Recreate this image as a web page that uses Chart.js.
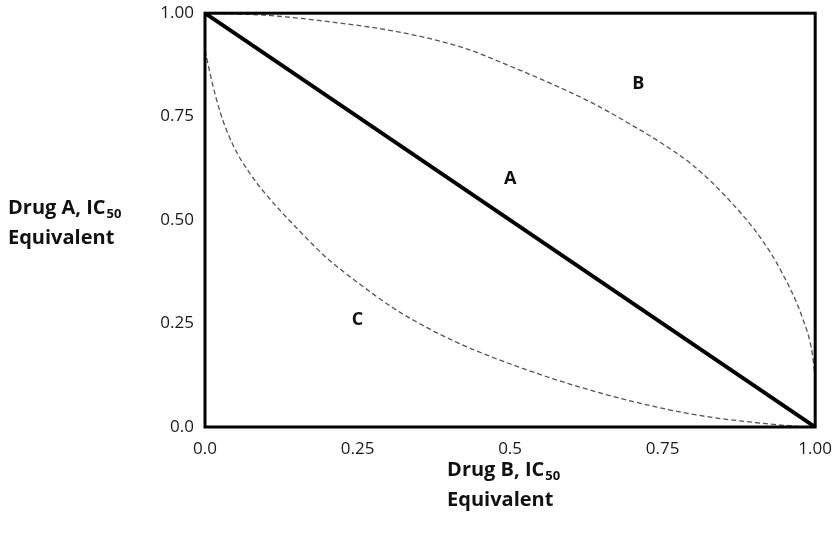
<!DOCTYPE html>
<html>
<head>
<meta charset="utf-8">
<script src="https://cdn.jsdelivr.net/npm/chart.js@4/dist/chart.umd.min.js"></script>
<style>
  body { margin: 0; background: #fff; }
</style>
</head>
<body>
<canvas id="isoChart" width="836" height="536"></canvas>
<script>
// --- data ---
const xTicks = [0, 0.25, 0.5, 0.75, 1];
const xTickLabels = ['0.0', '0.25', '0.5', '0.75', '1.00'];
const yTicks = [0, 0.25, 0.5, 0.75, 1];
const yTickLabels = ['0.0', '0.25', '0.50', '0.75', '1.00'];

// additive line (A)
const lineAx = [0, 1];
const lineAy = [1, 0];

// antagonism curve (B)
const curveBx = [0.0, 0.1, 0.2, 0.316, 0.42, 0.51, 0.582, 0.636, 0.692, 0.746, 0.8, 0.856, 0.91, 0.943, 0.98, 0.995, 1.0];
const curveBy = [1.0, 0.995, 0.98, 0.955, 0.918, 0.866, 0.82, 0.782, 0.736, 0.688, 0.632, 0.553, 0.458, 0.38, 0.26, 0.18, 0.12];

// synergy curve (C)
const curveCx = [0.0, 0.013, 0.025, 0.046, 0.074, 0.10, 0.156, 0.2, 0.254, 0.308, 0.364, 0.418, 0.472, 0.516, 0.593, 0.70, 0.81, 0.92, 0.975];
const curveCy = [0.91, 0.825, 0.76, 0.681, 0.612, 0.562, 0.472, 0.408, 0.345, 0.288, 0.24, 0.201, 0.168, 0.144, 0.106, 0.062, 0.028, 0.008, 0.001];

// region labels
const regionNames = ['A', 'B', 'C'];
const regionX = [0.5, 0.71, 0.25];
const regionY = [0.6, 0.83, 0.26];

const yTitle = ['Drug A, IC', '50', 'Equivalent'];
const xTitle = ['Drug B, IC', '50', 'Equivalent'];

const toPoints = (xs, ys) => xs.map((x, i) => ({ x: x, y: ys[i] }));

const tickFont = { family: "'Open Sans', sans-serif", size: 17 };
const letterFont = "bold 18px 'Open Sans', sans-serif";
const titleFont = "bold 20px 'Open Sans', sans-serif";
const subFont = "bold 13px 'Open Sans', sans-serif";

// frame, region letters and axis titles
const decorations = {
    id: 'decorations',
    afterDatasetsDraw(chart) {
        const { ctx, chartArea, scales } = chart;
        ctx.save();

        ctx.strokeStyle = '#000';
        ctx.lineWidth = 3;
        ctx.strokeRect(chartArea.left, chartArea.top, chartArea.width, chartArea.height);

        ctx.fillStyle = '#111';
        ctx.font = letterFont;
        ctx.textAlign = 'center';
        ctx.textBaseline = 'middle';
        regionNames.forEach((name, i) => {
            ctx.fillText(name, scales.x.getPixelForValue(regionX[i]), scales.y.getPixelForValue(regionY[i]));
        });

        // titles with subscript
        const drawTitle = (parts, left, base) => {
            ctx.textAlign = 'left';
            ctx.textBaseline = 'alphabetic';
            ctx.font = titleFont;
            ctx.fillText(parts[0], left, base);
            const w = ctx.measureText(parts[0]).width;
            ctx.font = subFont;
            ctx.fillText(parts[1], left + w + 1, base + 4);
            ctx.font = titleFont;
            ctx.fillText(parts[2], left, base + 30);
        };
        const midY = (chartArea.top + chartArea.bottom) / 2;
        drawTitle(yTitle, 8, midY - 6);
        const midX = (chartArea.left + chartArea.right) / 2;
        drawTitle(xTitle, midX - 63, chartArea.bottom + 49);

        ctx.restore();
    }
};

new Chart(document.getElementById('isoChart'), {
    type: 'scatter',
    data: {
        datasets: [
            {
                label: 'A',
                data: toPoints(lineAx, lineAy),
                showLine: true,
                borderColor: '#000',
                borderWidth: 4,
                pointRadius: 0
            },
            {
                label: 'B',
                data: toPoints(curveBx, curveBy),
                showLine: true,
                borderColor: '#555',
                borderWidth: 1.3,
                borderDash: [5, 3],
                cubicInterpolationMode: 'monotone',
                pointRadius: 0
            },
            {
                label: 'C',
                data: toPoints(curveCx, curveCy),
                showLine: true,
                borderColor: '#555',
                borderWidth: 1.3,
                borderDash: [5, 3],
                cubicInterpolationMode: 'monotone',
                pointRadius: 0
            }
        ]
    },
    options: {
        responsive: false,
        animation: false,
        layout: { padding: { left: 155, right: 20, top: 8, bottom: 79 } },
        plugins: {
            legend: { display: false },
            tooltip: { enabled: false }
        },
        scales: {
            x: {
                min: 0,
                max: 1,
                afterBuildTicks: (scale) => { scale.ticks = xTicks.map(v => ({ value: v })); },
                afterFit: (scale) => { scale.height = 30; },
                grid: { display: false },
                border: { display: false },
                ticks: {
                    color: '#1a1a1a',
                    font: tickFont,
                    padding: 4,
                    maxRotation: 0,
                    callback: (value) => xTickLabels[xTicks.indexOf(value)]
                }
            },
            y: {
                min: 0,
                max: 1,
                afterBuildTicks: (scale) => { scale.ticks = yTicks.map(v => ({ value: v })); },
                afterFit: (scale) => { scale.width = 50; },
                grid: { display: false },
                border: { display: false },
                ticks: {
                    color: '#1a1a1a',
                    font: tickFont,
                    padding: 3,
                    callback: (value) => yTickLabels[yTicks.indexOf(value)]
                }
            }
        }
    },
    plugins: [decorations]
});
</script>
</body>
</html>
